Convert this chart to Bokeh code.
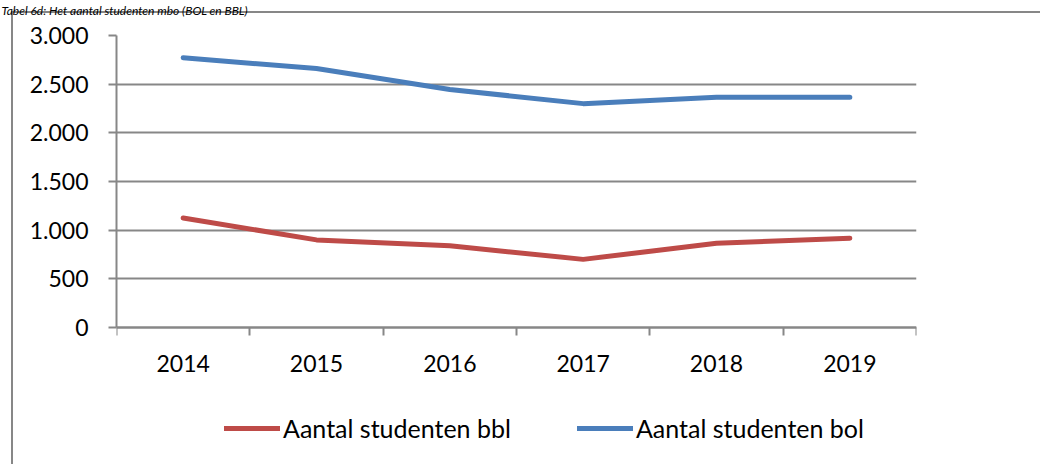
from bokeh.plotting import figure
from bokeh.models import Range1d, FixedTicker, Legend, LegendItem, Label
from bokeh.embed import file_html
from bokeh.resources import INLINE

# ---- data ----
years = [2014, 2015, 2016, 2017, 2018, 2019]
bbl = [1125, 900, 840, 700, 865, 918]
bol = [2772, 2660, 2445, 2300, 2365, 2365]
y_ticks = [0, 500, 1000, 1500, 2000, 2500, 3000]
y_tick_labels = ["0", "500", "1.000", "1.500", "2.000", "2.500", "3.000"]
series_names = ["Aantal studenten bbl", "Aantal studenten bol"]
title_text = "Tabel 6d: Het aantal studenten mbo (BOL en BBL)"

# ---- layout (pixels) ----
W, H = 1040, 464
F_LEFT, F_RIGHT, F_TOP = 116, 916, 35   # value area
ZERO_Y = 327                             # pixel row of the value 0
F_BOTTOM = H - 4                         # frame extends below the axis to hold the legend
FONT = "Lato"
GRID = "#878787"

y_top = y_ticks[-1]
y_bottom = -y_top * (F_BOTTOM - ZERO_Y) / (ZERO_Y - F_TOP)

p = figure(width=W, height=H, output_backend="svg", toolbar_location=None,
           x_range=Range1d(years[0] - 0.5, years[-1] + 0.5),
           y_range=Range1d(y_bottom, y_top),
           min_border_left=F_LEFT, min_border_right=W - F_RIGHT,
           min_border_top=F_TOP, min_border_bottom=H - F_BOTTOM)
p.outline_line_color = None
p.background_fill_color = "white"
p.border_fill_color = None
# outer chart border (its left and top edges are visible in the picture)
p.styles = {"background": "linear-gradient(#878787,#878787) 11px 11px / 2px 100% no-repeat, "
                          "linear-gradient(#878787,#878787) 11px 11px / 100% 2px no-repeat, #ffffff"}

# title above the chart border (canvas units, measured from the top)
p.add_layout(Label(x=1, y=9.5, x_units="canvas", y_units="canvas",
                   text=title_text, text_font=FONT, text_font_style="italic",
                   text_font_size="12px", text_color="black",
                   text_baseline="alphabetic", text_align="left"), "above")

# y axis
ya = p.yaxis[0]
ya.bounds = (y_ticks[0], y_ticks[-1])
ya.ticker = FixedTicker(ticks=y_ticks, minor_ticks=[])
ya.major_label_overrides = {t: l for t, l in zip(y_ticks, y_tick_labels)}
ya.major_tick_out = 8
ya.major_tick_in = 0
ya.minor_tick_out = 0
ya.minor_tick_in = 0
ya.axis_line_color = GRID
ya.axis_line_width = 2
ya.major_tick_line_color = GRID
ya.major_tick_line_width = 2
ya.major_label_text_font = FONT
ya.major_label_text_font_size = "23px"
ya.major_label_text_color = "black"
ya.major_label_standoff = 20

# x axis at value 0: labels at category centres, ticks at category boundaries
xa = p.xaxis[0]
xa.fixed_location = 0
bounds = [y - 0.5 for y in years] + [years[-1] + 0.5]
xa.ticker = FixedTicker(ticks=years, minor_ticks=bounds)
xa.major_tick_out = 0
xa.major_tick_in = 0
xa.minor_tick_out = 8
xa.minor_tick_in = 0
xa.minor_tick_line_color = GRID
xa.minor_tick_line_width = 2
xa.axis_line_color = GRID
xa.axis_line_width = 2
xa.major_label_text_font = FONT
xa.major_label_text_font_size = "23px"
xa.major_label_text_color = "black"
xa.major_label_standoff = 19

p.xgrid.grid_line_color = None
p.ygrid.ticker = FixedTicker(ticks=y_ticks)
p.ygrid.grid_line_color = GRID
p.ygrid.grid_line_width = 2

r_bbl = p.line(years, bbl, line_color="#BE4B48", line_width=5,
               line_cap="round", line_join="round")
r_bol = p.line(years, bol, line_color="#4A7EBB", line_width=5,
               line_cap="round", line_join="round")

legend = Legend(items=[LegendItem(label=series_names[0], renderers=[r_bbl]),
                       LegendItem(label=series_names[1], renderers=[r_bol])],
                orientation="horizontal", location=(108, 17),
                padding=0, margin=0, spacing=66,
                glyph_width=56, glyph_height=20, label_standoff=3,
                label_text_font=FONT, label_text_font_size="25px",
                label_text_color="black",
                border_line_color=None, background_fill_alpha=0)
p.add_layout(legend, "center")

open("out.html", "w").write(file_html(p, INLINE))
